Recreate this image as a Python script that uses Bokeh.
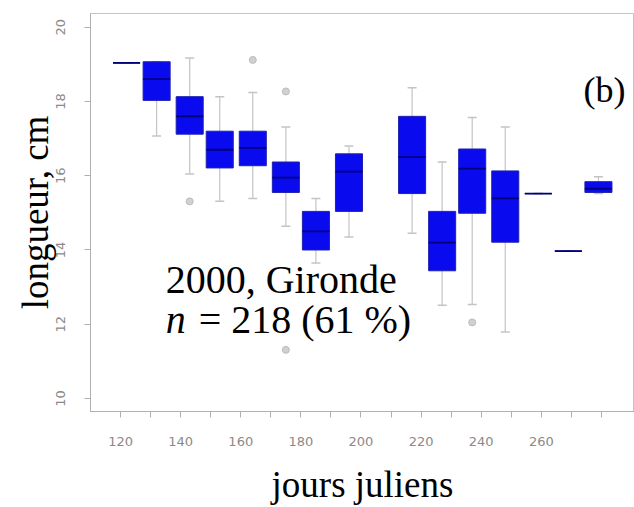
from bokeh.plotting import figure
from bokeh.models import Range1d, FixedTicker, Label, ColumnDataSource
from bokeh.embed import file_html
from bokeh.resources import INLINE

# ---- data ----
days = [122, 132, 143, 153, 164, 175, 185, 196, 217, 227, 237, 248, 259, 269, 279]
lo   = [19.04, 17.07, 16.05, 15.31, 15.39, 14.64, 13.65, 14.35, 14.45, 12.51, 12.53, 11.79, 15.52, 13.97, 15.52]
q1   = [19.04, 18.03, 17.12, 16.21, 16.27, 15.55, 14.00, 15.04, 15.52, 13.44, 14.99, 14.21, 15.52, 13.97, 15.55]
med  = [19.04, 18.60, 17.60, 16.70, 16.75, 15.95, 14.50, 16.11, 16.50, 14.20, 16.19, 15.39, 15.52, 13.97, 15.65]
q3   = [19.04, 19.07, 18.13, 17.20, 17.20, 16.37, 15.04, 16.59, 17.60, 15.04, 16.72, 16.13, 15.52, 13.97, 15.84]
hi   = [19.04, 19.07, 19.17, 18.13, 18.24, 17.31, 15.39, 16.80, 18.37, 16.37, 17.57, 17.31, 15.52, 13.97, 15.97]

out_day = [143, 164, 175, 175, 237]
out_val = [15.31, 19.12, 18.27, 11.31, 12.05]

x_major = [120, 140, 160, 180, 200, 220, 240, 260]
x_minor = [130, 150, 170, 190, 210, 230, 250, 270, 280]
y_major = [10, 12, 14, 16, 18, 20]

src = ColumnDataSource(dict(day=days, lo=lo, q1=q1, med=med, q3=q3, hi=hi))

p = figure(width=634, height=507, output_backend="svg", toolbar_location=None,
           x_range=Range1d(110, 291), y_range=Range1d(9.65, 20.37),
           min_border_left=90, min_border_right=0, min_border_top=13,
           min_border_bottom=92)

p.background_fill_color = "white"
p.border_fill_color = "white"
p.outline_line_color = "#c4c4c4"
p.xgrid.visible = False
p.ygrid.visible = False

grey = "#c4c4c4"
# whiskers
p.segment(x0="day", y0="q3", x1="day", y1="hi", source=src, line_color=grey, line_width=1.2)
p.segment(x0="day", y0="q1", x1="day", y1="lo", source=src, line_color=grey, line_width=1.2)
p.scatter(x="day", y="hi", source=src, marker="dash", size=9, line_color=grey, line_width=1.5)
p.scatter(x="day", y="lo", source=src, marker="dash", size=9, line_color=grey, line_width=1.5)
# boxes
p.vbar(x="day", width=9, top="q3", bottom="q1", source=src,
       fill_color="#0a0aee", line_color="#2020b0", line_width=1)
# medians
p.scatter(x="day", y="med", source=src, marker="dash", size=27,
          line_color="#000078", line_width=1.8)
# outliers
p.scatter(out_day, out_val, size=7, fill_color="#d0d0d0", line_color="#bcbcbc")

# axes
xa = p.xaxis[0]
xa.ticker = FixedTicker(ticks=x_major, minor_ticks=x_minor)
xa.axis_line_color = "#b0b0b0"
xa.major_tick_line_color = "#b0b0b0"
xa.minor_tick_line_color = "#b0b0b0"
xa.major_tick_out = 6
xa.minor_tick_out = 6
xa.major_tick_in = 0
xa.minor_tick_in = 0
xa.major_label_text_font = "DejaVu Sans"
xa.major_label_text_font_size = "13px"
xa.major_label_text_color = "#8a8a8a"
xa.major_label_standoff = 19
xa.axis_label = "jours juliens"
xa.axis_label_text_font = "Liberation Serif"
xa.axis_label_text_font_style = "normal"
xa.axis_label_text_font_size = "37px"
xa.axis_label_text_color = "black"
xa.axis_label_standoff = 15

ya = p.yaxis[0]
ya.ticker = FixedTicker(ticks=y_major, minor_ticks=[])
ya.axis_line_color = "#b0b0b0"
ya.major_tick_line_color = "#b0b0b0"
ya.major_tick_out = 6
ya.major_tick_in = 0
ya.minor_tick_line_color = None
ya.major_label_orientation = "vertical"
ya.major_label_text_font = "DejaVu Sans"
ya.major_label_text_font_size = "13px"
ya.major_label_text_color = "#8a8a8a"
ya.major_label_standoff = 19
ya.axis_label = "longueur, cm"
ya.axis_label_text_font = "Liberation Serif"
ya.axis_label_text_font_style = "normal"
ya.axis_label_text_font_size = "37px"
ya.axis_label_text_color = "black"
ya.axis_label_standoff = -2

# annotations
p.add_layout(Label(x=135, y=13.2, text="2000, Gironde", text_font="Liberation Serif",
                   text_font_size="40px", text_baseline="middle", text_color="black"))
p.add_layout(Label(x=135, y=12.13, text="n", text_font="Liberation Serif",
                   text_font_style="italic",
                   text_font_size="40px", text_baseline="middle", text_color="black"))
p.add_layout(Label(x=135, y=12.13, x_offset=33, text="= 218 (61 %)", text_font="Liberation Serif",
                   text_font_size="40px", text_baseline="middle", text_color="black"))
p.add_layout(Label(x=274, y=18.32, text="(b)", text_font="Liberation Serif",
                   text_font_size="36px", text_baseline="middle", text_color="black"))

open("out.html", "w").write(file_html(p, INLINE))
